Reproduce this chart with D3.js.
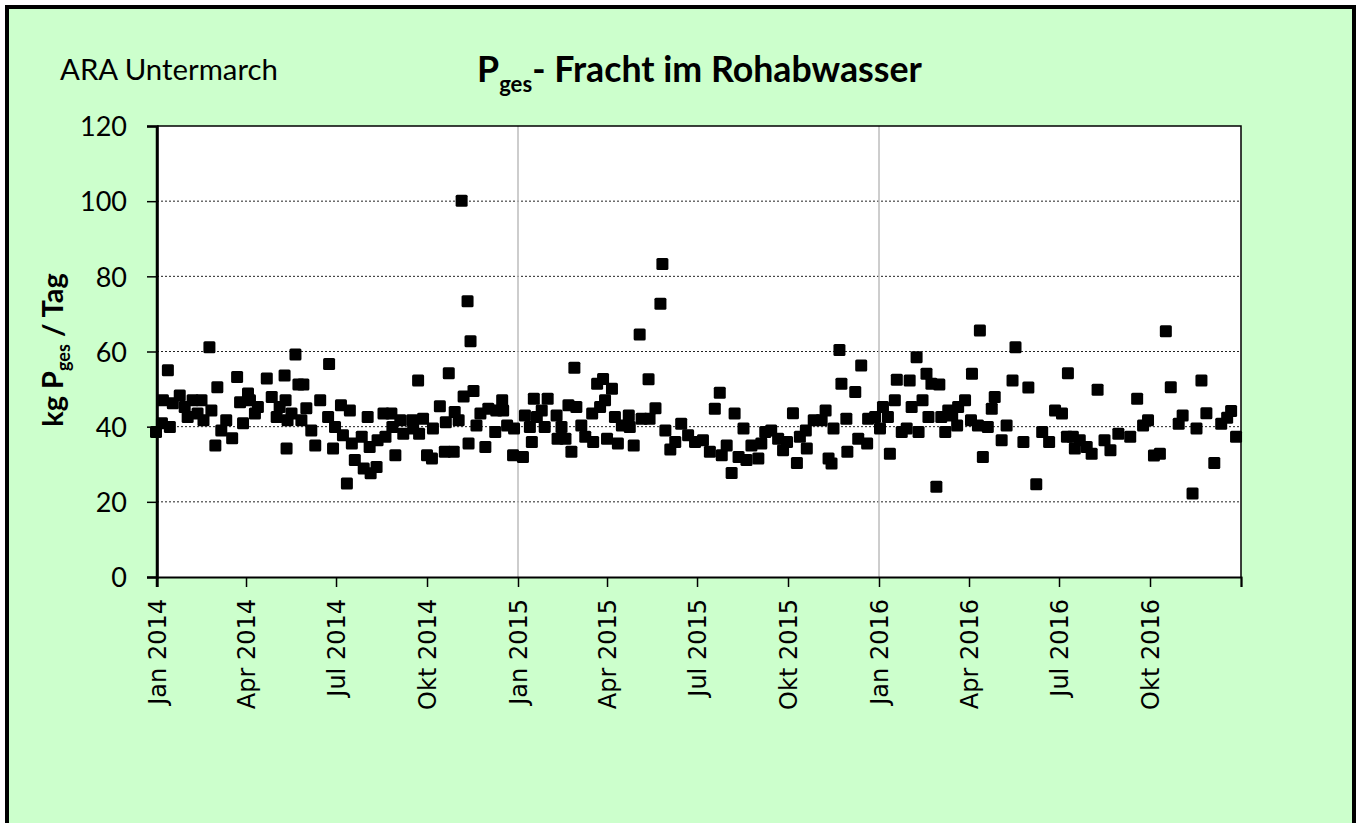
<!DOCTYPE html>
<html><head><meta charset="utf-8">
<script src="https://cdn.jsdelivr.net/npm/d3@7"></script>
<style>html,body{margin:0;padding:0;background:#fff}svg{display:block}</style>
</head><body>
<svg id="c" width="1361" height="823"></svg>
<script>
// ---- data ----
const dates = [
"2013-12-31","2014-01-06","2014-01-07","2014-01-12","2014-01-14","2014-01-17","2014-01-24","2014-01-29",
"2014-02-01","2014-02-06","2014-02-11","2014-02-15","2014-02-17","2014-02-23","2014-02-25","2014-03-01",
"2014-03-03","2014-03-07","2014-03-12","2014-03-18","2014-03-23","2014-03-26","2014-03-29","2014-04-03",
"2014-04-05","2014-04-10","2014-04-13","2014-04-22","2014-04-27","2014-05-02","2014-05-05","2014-05-10",
"2014-05-11","2014-05-12","2014-05-13","2014-05-17","2014-05-21","2014-05-24","2014-05-27","2014-05-29",
"2014-06-01","2014-06-06","2014-06-10","2014-06-15","2014-06-23","2014-06-24","2014-06-28","2014-06-30",
"2014-07-06","2014-07-08","2014-07-12","2014-07-15","2014-07-17","2014-07-20","2014-07-27","2014-07-29",
"2014-08-02","2014-08-04","2014-08-05","2014-08-11","2014-08-12","2014-08-18","2014-08-20","2014-08-26",
"2014-08-27","2014-08-30","2014-09-04","2014-09-07","2014-09-16","2014-09-17","2014-09-22","2014-09-23",
"2014-09-27","2014-10-01","2014-10-06","2014-10-07","2014-10-14","2014-10-19","2014-10-20","2014-10-23",
"2014-10-28","2014-10-29","2014-11-02","2014-11-05","2014-11-07","2014-11-11","2014-11-12","2014-11-14",
"2014-11-17","2014-11-20","2014-11-24","2014-11-29","2014-12-02","2014-12-09","2014-12-10","2014-12-16",
"2014-12-17","2014-12-21","2014-12-27","2014-12-28",
"2015-01-06","2015-01-08","2015-01-13","2015-01-15","2015-01-17","2015-01-20","2015-01-25","2015-01-28",
"2015-01-31","2015-02-09","2015-02-10","2015-02-14","2015-02-18","2015-02-21","2015-02-24","2015-02-27",
"2015-03-01","2015-03-06","2015-03-10","2015-03-17","2015-03-18","2015-03-22","2015-03-25","2015-03-28",
"2015-03-30","2015-04-01","2015-04-06","2015-04-09","2015-04-12","2015-04-16","2015-04-23","2015-04-24",
"2015-04-28","2015-05-04","2015-05-06","2015-05-13","2015-05-14","2015-05-20","2015-05-25","2015-05-27",
"2015-05-30","2015-06-04","2015-06-09","2015-06-15","2015-06-22","2015-06-29","2015-07-07","2015-07-14",
"2015-07-19","2015-07-24","2015-07-26","2015-07-31","2015-08-05","2015-08-08","2015-08-12","2015-08-17",
"2015-08-20","2015-08-25","2015-09-01","2015-09-04","2015-09-08","2015-09-14","2015-09-21","2015-09-26",
"2015-09-30","2015-10-06","2015-10-10","2015-10-13","2015-10-19","2015-10-20","2015-10-27","2015-11-04",
"2015-11-08","2015-11-11","2015-11-14","2015-11-16","2015-11-22","2015-11-24","2015-11-29","2015-11-30",
"2015-12-08","2015-12-11","2015-12-14","2015-12-20","2015-12-21","2015-12-28",
"2016-01-02","2016-01-05","2016-01-10","2016-01-12","2016-01-17","2016-01-19","2016-01-24","2016-01-29",
"2016-02-01","2016-02-03","2016-02-08","2016-02-10","2016-02-14","2016-02-18","2016-02-20","2016-02-23",
"2016-02-28","2016-03-02","2016-03-04","2016-03-08","2016-03-11","2016-03-15","2016-03-20","2016-03-21",
"2016-03-28","2016-04-03","2016-04-04","2016-04-10","2016-04-12","2016-04-15","2016-04-20","2016-04-24",
"2016-04-27","2016-05-04","2016-05-09","2016-05-15","2016-05-18","2016-05-26","2016-05-31","2016-06-08",
"2016-06-14","2016-06-21","2016-06-27","2016-07-04","2016-07-09","2016-07-10","2016-07-15","2016-07-17",
"2016-07-22","2016-07-29","2016-08-03","2016-08-09","2016-08-16","2016-08-22","2016-08-30","2016-09-11",
"2016-09-18","2016-09-24","2016-09-29","2016-10-05","2016-10-11","2016-10-17","2016-10-22","2016-10-30",
"2016-11-03","2016-11-13","2016-11-17","2016-11-22","2016-11-27","2016-12-05","2016-12-12","2016-12-18",
"2016-12-22","2016-12-27"
];
const values = [
38.6,40.9,47.0,55.0,39.9,46.2,48.3,45.2,
42.6,47.0,43.5,47.0,41.7,61.1,44.3,35.0,
50.5,39.0,41.7,36.9,53.2,46.5,40.9,48.8,
47.0,43.5,45.2,52.8,47.9,42.6,45.2,53.6,
47.0,34.2,41.7,43.5,59.2,51.2,41.7,51.2,
44.9,39.0,35.0,47.0,42.6,56.7,34.2,39.9,
45.7,37.7,24.9,44.3,35.5,31.1,37.3,28.9,
42.6,34.6,27.6,29.3,36.4,43.5,37.3,43.5,
39.9,32.4,41.7,38.1,41.7,39.5,52.3,38.1,
42.1,32.4,31.5,39.5,45.4,33.3,41.2,54.2,
33.3,43.9,41.7,100.1,48.0,73.4,35.5,62.7,
49.5,40.3,43.5,34.6,44.8,38.6,44.3,47.0,
44.3,40.3,32.4,39.5,
31.9,43.0,39.9,35.9,47.4,42.6,44.3,39.9,
47.4,43.0,36.8,39.9,36.8,45.7,33.3,55.7,
45.2,40.3,37.3,43.5,35.9,51.4,45.2,52.7,
47.0,36.8,50.1,42.6,35.5,40.3,43.0,39.9,
35.0,64.5,42.1,52.6,42.1,44.9,72.7,83.3,
39.0,33.9,35.9,40.8,37.7,35.9,36.4,33.3,
44.8,49.0,32.4,35.0,27.7,43.5,31.9,39.5,
31.1,35.0,31.5,35.5,38.6,39.0,36.8,33.7,
35.9,43.6,30.3,37.3,39.0,34.2,41.7,41.7,
44.3,31.5,30.2,39.5,60.4,51.4,42.1,33.3,
49.2,36.8,56.3,35.5,42.1,42.6,
39.5,45.2,42.6,32.8,47.0,52.5,38.6,39.5,
52.3,45.2,58.5,38.6,47.0,54.1,42.6,51.4,
24.0,51.2,42.6,38.6,44.3,43.0,40.3,45.2,
47.0,41.7,54.1,40.3,65.6,31.9,39.9,44.8,
47.9,36.4,40.3,52.3,61.1,35.9,50.4,24.7,
38.6,35.9,44.3,43.5,37.3,54.2,37.3,34.2,
36.4,34.6,32.8,49.8,36.4,33.7,38.1,37.3,
47.4,40.3,41.7,32.3,32.8,65.4,50.5,40.8,
43.0,22.2,39.5,52.3,43.6,30.3,40.8,42.4,
44.2,37.3
];
const yTicks = [0, 20, 40, 60, 80, 100, 120];
const xTickDates = ["2014-01-01","2014-04-01","2014-07-01","2014-10-01","2015-01-01","2015-04-01",
  "2015-07-01","2015-10-01","2016-01-01","2016-04-01","2016-07-01","2016-10-01","2017-01-01"];
const xTickLabels = ["Jan 2014","Apr 2014","Jul 2014","Okt 2014","Jan 2015","Apr 2015",
  "Jul 2015","Okt 2015","Jan 2016","Apr 2016","Jul 2016","Okt 2016",""];
const yearGridDates = ["2015-01-01","2016-01-01"];
const chartTitle = ["P", "ges", "- Fracht im Rohabwasser"];
const plantName = "ARA Untermarch";
const yLabel = ["kg P", "ges", " / Tag"];

// ---- drawing ----
const parse = d3.timeParse("%Y-%m-%d");
const svg = d3.select("#c");
const L = 157, R = 1241, T = 126, B = 577;
const x = d3.scaleTime().domain([parse("2014-01-01"), parse("2017-01-01")]).range([L, R]);
const y = d3.scaleLinear().domain([0, 120]).range([B, T]);
const calibri = "Lato, 'Open Sans', sans-serif";

function fitWidth(sel, target) {
  const w = sel.node().getBBox().width;
  const fs = parseFloat(sel.attr("font-size"));
  sel.attr("font-size", fs * target / w);
}

// outer frame
svg.append("rect").attr("x", 7).attr("y", 7).attr("width", 1347).attr("height", 850)
  .attr("fill", "#ccffcc").attr("stroke", "#000").attr("stroke-width", 4);

// plot area
svg.append("rect").attr("x", L).attr("y", T).attr("width", R - L).attr("height", B - T).attr("fill", "#fff");

// horizontal dotted gridlines
svg.append("g").selectAll("line").data(yTicks.filter(v => v > 0 && v < 120)).join("line")
  .attr("x1", L).attr("x2", R).attr("y1", d => y(d)).attr("y2", d => y(d))
  .attr("stroke", "#222").attr("stroke-width", 1).attr("stroke-dasharray", "2,2");

// vertical year gridlines
svg.append("g").selectAll("line").data(yearGridDates.map(parse)).join("line")
  .attr("x1", d => x(d)).attr("x2", d => x(d)).attr("y1", T).attr("y2", B)
  .attr("stroke", "#bdbdbd").attr("stroke-width", 1.5);

// plot border top/right
svg.append("path").attr("d", `M${L},${T}H${R}V${B}`).attr("fill", "none")
  .attr("stroke", "#000").attr("stroke-width", 1.5);

// data markers
const pts = dates.map((d, i) => ({ d: parse(d), v: values[i] }));
const S = 12;
svg.append("g").selectAll("rect").data(pts).join("rect")
  .attr("x", p => x(p.d) - S / 2).attr("y", p => y(p.v) - S / 2)
  .attr("width", S).attr("height", S).attr("rx", 1.5)
  .attr("fill", "#000");

// y axis
const yAxis = svg.append("g").attr("transform", `translate(${L},0)`)
  .call(d3.axisLeft(y).tickValues(yTicks).tickSize(10).tickPadding(20).tickFormat(d3.format("d")));
yAxis.select(".domain").attr("stroke", "#000").attr("stroke-width", 2.5);
yAxis.selectAll(".tick line").attr("stroke", "#000").attr("stroke-width", 1.5);
yAxis.selectAll(".tick text").attr("font-family", calibri).attr("font-size", 27).attr("fill", "#000")
  .attr("dy", "0.36em");

// x axis
const xAxis = svg.append("g").attr("transform", `translate(0,${B})`)
  .call(d3.axisBottom(x).tickValues(xTickDates.map(parse)).tickSize(10).tickFormat((d, i) => xTickLabels[i]));
xAxis.select(".domain").attr("stroke", "#000").attr("stroke-width", 2);
xAxis.selectAll(".tick line").attr("stroke", "#000").attr("stroke-width", 1.5);
xAxis.selectAll(".tick text")
  .attr("font-family", "'DejaVu Sans', sans-serif").attr("font-size", 24).attr("fill", "#000")
  .attr("text-anchor", "end").attr("transform", "translate(0,22) rotate(-90)")
  .attr("x", 0).attr("y", 0).attr("dy", "0.36em");
// redraw left axis line on top of everything
svg.append("line").attr("x1", L).attr("x2", L).attr("y1", T).attr("y2", B + 10)
  .attr("stroke", "#000").attr("stroke-width", 2.5);

// plant name
const pn = svg.append("text").attr("x", 60).attr("y", 80).attr("font-family", calibri)
  .attr("font-size", 26).attr("fill", "#000").text(plantName);
fitWidth(pn, 218);

// title
const tt = svg.append("text").attr("x", 477).attr("y", 82).attr("font-family", calibri)
  .attr("font-weight", "bold").attr("font-size", 32).attr("fill", "#000");
tt.append("tspan").text(chartTitle[0]);
tt.append("tspan").attr("font-size", "0.62em").attr("dy", "0.45em").text(chartTitle[1]);
tt.append("tspan").attr("dy", "-0.28em").text(chartTitle[2]);
fitWidth(tt, 445);

// y label
const yl = svg.append("text").attr("transform", "translate(63,350) rotate(-90)")
  .attr("text-anchor", "middle").attr("font-family", calibri).attr("font-weight", "bold")
  .attr("font-size", 26).attr("fill", "#000");
yl.append("tspan").text(yLabel[0]);
yl.append("tspan").attr("font-size", "0.62em").attr("dy", "0.4em").text(yLabel[1]);
yl.append("tspan").attr("dy", "-0.25em").text(yLabel[2]);
fitWidth(yl, 154);
</script>
</body></html>
